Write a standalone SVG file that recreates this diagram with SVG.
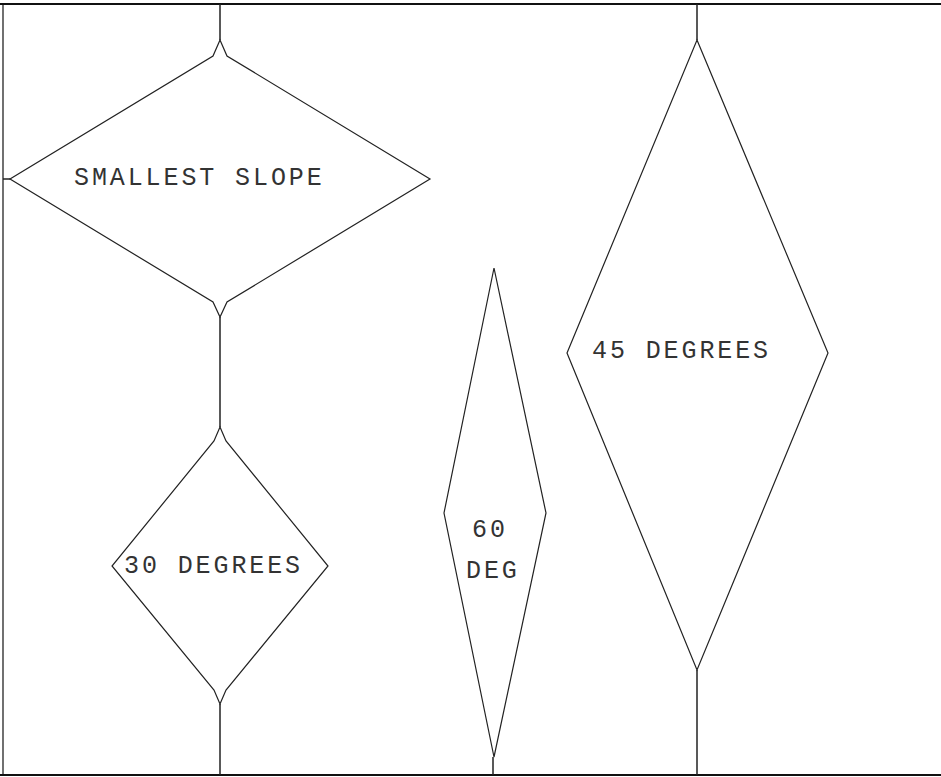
<svg xmlns="http://www.w3.org/2000/svg" width="941" height="777" viewBox="0 0 941 777">
<style>
.shape{fill:none;stroke:#222;stroke-width:1.2;stroke-linejoin:miter}
.conn{stroke:#222;stroke-width:1.5;fill:none}
.frame{stroke:#111;fill:none}
.lbl{font-family:"Liberation Mono","DejaVu Sans Mono",monospace;font-size:25px;letter-spacing:2.9px;fill:#333}
</style>
<rect width="941" height="777" fill="#fff"/>
<g id="frame">
<line class="frame" x1="0" y1="4" x2="941" y2="4" stroke-width="2.2"/>
<line class="frame" x1="3" y1="3" x2="3" y2="776" stroke-width="1.2"/>
<line class="frame" x1="0" y1="775" x2="941" y2="775" stroke-width="2.2"/>
</g>
<g id="connectors">
<line class="conn" x1="220" y1="4" x2="220" y2="40"/>
<line class="conn" x1="3" y1="179" x2="10" y2="179" stroke-width="2.5"/>
<line class="conn" x1="220" y1="317" x2="220" y2="427"/>
<line class="conn" x1="220" y1="704" x2="220" y2="775"/>
<line class="conn" x1="493" y1="757" x2="493" y2="775"/>
<line class="conn" x1="697" y1="4" x2="697" y2="40"/>
<line class="conn" x1="697" y1="670" x2="697" y2="775"/>
</g>
<g id="node-smallest-slope">
<polygon class="shape" points="220,40 227,56 430,179 227,302 220,317 213,302 10,179 213,56"/>
<text class="lbl" x="74" y="185">SMALLEST SLOPE</text>
</g>
<g id="node-30-degrees">
<polygon class="shape" points="220,427 226,441 328,566 226,690 220,704 214,690 112,566 214,441"/>
<text class="lbl" x="124" y="573">30 DEGREES</text>
</g>
<g id="node-60-deg">
<polygon class="shape" points="494,268 546,513 494,757 444,513"/>
<text class="lbl" x="472" y="537">60</text>
<text class="lbl" x="466" y="578">DEG</text>
</g>
<g id="node-45-degrees">
<polygon class="shape" points="697,40 828,353 697,670 567,353"/>
<text class="lbl" x="592" y="358">45 DEGREES</text>
</g>
</svg>
